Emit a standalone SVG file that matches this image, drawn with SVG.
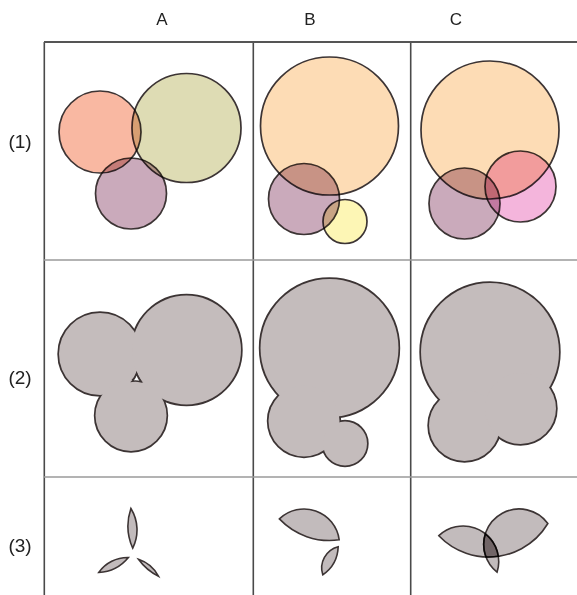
<svg xmlns="http://www.w3.org/2000/svg" width="577" height="595" viewBox="0 0 577 595">
<style>
.lbl{font-family:"Liberation Sans",Arial,sans-serif;font-size:17px;fill:#222;text-anchor:middle}
.rl{font-family:"Liberation Sans",Arial,sans-serif;font-size:19px;fill:#222;text-anchor:middle}
.c{stroke:#3c3434;stroke-width:1.7;mix-blend-mode:multiply}
.u{fill:none;stroke:#3c3434;stroke-width:3.4}
.f{fill:#c4bcbc;stroke:none}
.lens{fill:#c2bbbc;stroke:#3c3434;stroke-width:1.6;mix-blend-mode:multiply}
.vl{stroke:#4a4a4a;stroke-width:1.6}
.hl{stroke:#9a9a9a;stroke-width:1.5}
</style>
<rect width="577" height="595" fill="#fff"/>
<g id="grid">
<line class="vl" x1="44.3" y1="42" x2="44.3" y2="595"/>
<line class="vl" x1="253.3" y1="42" x2="253.3" y2="595"/>
<line class="vl" x1="410.7" y1="42" x2="410.7" y2="595"/>
<line x1="44" y1="42" x2="577" y2="42" stroke="#555" stroke-width="2"/>
<line class="hl" x1="44" y1="260" x2="577" y2="260"/>
<line class="hl" x1="44" y1="477" x2="577" y2="477"/>
</g>
<g id="labels">
<text class="lbl" x="162" y="25">A</text>
<text class="lbl" x="310" y="25">B</text>
<text class="lbl" x="456" y="25">C</text>
<text class="rl" x="20" y="148">(1)</text>
<text class="rl" x="20" y="384">(2)</text>
<text class="rl" x="20" y="552">(3)</text>
</g>
<g id="A1">
<circle class="c" cx="100" cy="132" r="41" fill="#f9b8a2"/>
<circle class="c" cx="186.5" cy="128" r="54.5" fill="#dedcb4"/>
<circle class="c" cx="131" cy="193.5" r="35.5" fill="#caaabb"/>
</g>
<g id="B1">
<circle class="c" cx="329.5" cy="126" r="69" fill="#fddcb5"/>
<circle class="c" cx="304" cy="199" r="35.5" fill="#caaabb"/>
<circle class="c" cx="345" cy="221.5" r="22" fill="#fdf6b5"/>
</g>
<g id="C1">
<circle class="c" cx="490" cy="130" r="69" fill="#fddcb5"/>
<circle class="c" cx="464.5" cy="203.5" r="35.5" fill="#caaabb"/>
<circle class="c" cx="520.5" cy="186.5" r="35.5" fill="#f4b5dc"/>
</g>
<g id="A2" transform="translate(0,222)">
<circle class="u" cx="100" cy="132" r="41"/>
<circle class="u" cx="186.5" cy="128" r="54.5"/>
<circle class="u" cx="131" cy="193.5" r="35.5"/>
<circle class="f" cx="100" cy="132" r="41"/>
<circle class="f" cx="186.5" cy="128" r="54.5"/>
<circle class="f" cx="131" cy="193.5" r="35.5"/>
<path d="M136.6 151.6 Q137.8 155.5 140.9 159.7 Q136.5 158.6 132.3 159.2 Q135.3 156 136.6 151.6 Z" fill="#fff" stroke="#3c3434" stroke-width="1.6"/>
</g>
<g id="B2" transform="translate(0,222)">
<circle class="u" cx="329.5" cy="126" r="69"/>
<circle class="u" cx="304" cy="199" r="35.5"/>
<circle class="u" cx="345" cy="221.5" r="22"/>
<circle class="f" cx="329.5" cy="126" r="69"/>
<circle class="f" cx="304" cy="199" r="35.5"/>
<circle class="f" cx="345" cy="221.5" r="22"/>
</g>
<g id="C2" transform="translate(0,222)">
<circle class="u" cx="490" cy="130" r="69"/>
<circle class="u" cx="464.5" cy="203.5" r="35.5"/>
<circle class="u" cx="520.5" cy="186.5" r="35.5"/>
<circle class="f" cx="490" cy="130" r="69"/>
<circle class="f" cx="464.5" cy="203.5" r="35.5"/>
<circle class="f" cx="520.5" cy="186.5" r="35.5"/>
</g>
<g id="A3">
<path class="lens" d="M132.74 548.22 A41 41 0 0 0 130.90 508.46 A54.5 54.5 0 0 0 132.74 548.22 Z"/>
<path class="lens" d="M98.75 572.45 A41 41 0 0 0 128.40 557.51 A35.5 35.5 0 0 0 98.75 572.45 Z"/>
<path class="lens" d="M158.56 576.36 A35.5 35.5 0 0 0 138.47 559.34 A54.5 54.5 0 0 0 158.56 576.36 Z"/>
</g>
<g id="B3">
<path class="lens" d="M279.38 518.92 A69 69 0 0 0 339.19 539.82 A35.5 35.5 0 0 0 279.38 518.92 Z"/>
<path class="lens" d="M322.77 574.78 A35.5 35.5 0 0 0 338.18 546.70 A22 22 0 0 0 322.77 574.78 Z"/>
</g>
<g id="C3">
<path class="lens" d="M438.83 535.69 A69 69 0 0 0 498.32 556.33 A35.5 35.5 0 0 0 438.83 535.69 Z"/>
<path class="lens" d="M485.95 556.95 A69 69 0 0 0 547.85 523.53 A35.5 35.5 0 0 0 485.95 556.95 Z"/>
<path class="lens" d="M497.04 572.23 A35.5 35.5 0 0 0 485.36 533.77 A35.5 35.5 0 0 0 497.04 572.23 Z"/>
</g>
</svg>
